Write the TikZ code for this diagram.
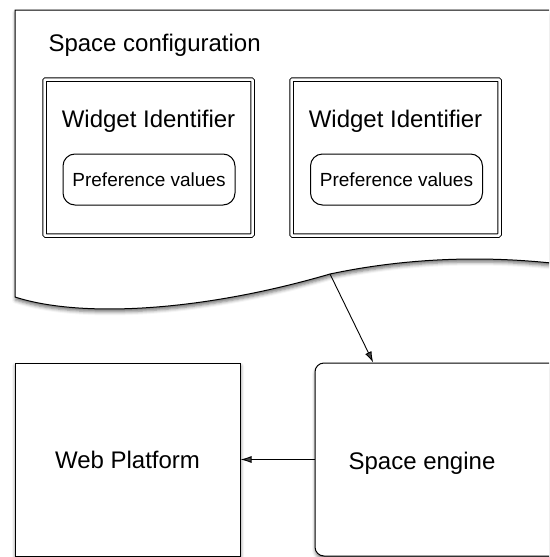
\documentclass[tikz,border=0pt]{standalone}
\usepackage{fontspec}
\setmainfont{Liberation Sans}
\usetikzlibrary{shadows.blur,arrows.meta,positioning}

\tikzset{
	shadowed/.style={blur shadow={shadow xshift=0.5pt, shadow yshift=-3pt, shadow blur radius=3.5pt, shadow opacity=55}},
	box/.style={draw, line width=1pt, fill=white},
	widgetbox/.style={draw, double, double distance=2.5pt, line width=1pt, rounded corners=1pt, minimum width=208pt, minimum height=156pt, inner sep=0pt},
	prefbox/.style={draw, line width=1pt, rounded corners=12pt, minimum width=172pt, minimum height=51pt, inner sep=0pt, font=\fontsize{19}{22}\selectfont},
	bigtext/.style={font=\fontsize{24}{28}\selectfont},
	link/.style={line width=0.9pt, -{Latex[length=11pt,width=7pt]}}
}

\begin{document}
\begin{tikzpicture}[x=1pt, y=-1pt]
			%\draw[help lines] (0,0) grid (549,557);
			\path[use as bounding box, clip] (0,0) rectangle (549,557);

			\draw[box, shadowed] (15,10) -- (560,10) -- (560,264)
				.. controls (500,257) and (420,255) .. (330,274)
				.. controls (200,312) and (80,318) .. (15,297) -- cycle;
			\coordinate (confbottom) at (330,274);
			\node[bigtext, anchor=base west] (conftitle) at (45,51) {Space configuration};

			\node[widgetbox] (widget1) at (148.5,157.5) {};
			\node[widgetbox] (widget2) at (395.5,157.5) {};
			\node[bigtext, anchor=base] (widgetid1) at (148.5,127) {Widget Identifier};
			\node[bigtext, anchor=base] (widgetid2) at (395.5,127) {Widget Identifier};
			\node[prefbox] (pref1) at (149,179.5) {Preference values};
			\node[prefbox] (pref2) at (396.5,179.5) {Preference values};

			\node[box, shadowed, bigtext, minimum width=225pt, minimum height=193pt, inner sep=0pt] (web) at (127.5,459.5) {Web Platform};
			\node[box, shadowed, rounded corners=9pt, minimum width=285pt, minimum height=193pt] (engine) at (457.5,459.5) {};
			\node[bigtext, anchor=base] (enginelabel) at (422,469) {Space engine};

			\draw[link] (confbottom) -- (engine.131);
			\draw[link] (engine.west) -- (web.east);
		\end{tikzpicture}
\end{document}
